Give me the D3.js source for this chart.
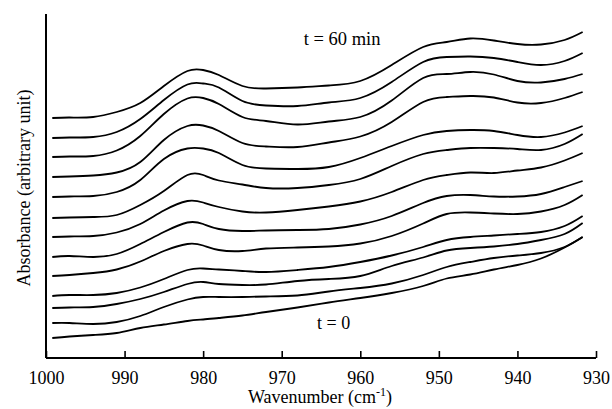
<!DOCTYPE html>
<html>
<head>
<meta charset="utf-8">
<script src="https://cdn.jsdelivr.net/npm/d3@7"></script>
<style>
  html, body { margin: 0; padding: 0; background: #fff; }
  svg { display: block; }
  text { font-family: "Liberation Serif", "Times New Roman", serif; fill: #000; }
</style>
</head>
<body>
<div id="chart"></div>
<script>
// Wavenumbers (cm^-1) at which each spectrum is sampled
const wavenumbers = [999.2, 997, 994, 991, 988, 985, 982, 980, 978, 975, 972, 968, 964, 960, 956, 952, 949, 946, 943, 940, 937, 934, 931.7];

// Sampling times of the spectra (min), bottom to top
const times = [0, 5, 10, 15, 20, 25, 30, 35, 40, 45, 50, 55, 60];

// Absorbance (arbitrary unit, stacked), one array per spectrum, t = 0 first
const spec00 = [0.20, 0.215, 0.23, 0.25, 0.30, 0.335, 0.37, 0.385, 0.40, 0.425, 0.46, 0.505, 0.555, 0.60, 0.65, 0.72, 0.795, 0.835, 0.885, 0.93, 0.995, 1.105, 1.21];
const spec05 = [0.35, 0.35, 0.34, 0.36, 0.42, 0.51, 0.585, 0.61, 0.61, 0.61, 0.615, 0.625, 0.665, 0.70, 0.745, 0.83, 0.91, 0.96, 1.00, 1.025, 1.05, 1.11, 1.21];
const spec10 = [0.50, 0.505, 0.51, 0.54, 0.59, 0.66, 0.74, 0.76, 0.74, 0.73, 0.735, 0.77, 0.79, 0.82, 0.92, 1.005, 1.075, 1.10, 1.115, 1.14, 1.18, 1.24, 1.35];
const spec15 = [0.62, 0.63, 0.63, 0.65, 0.705, 0.79, 0.88, 0.895, 0.885, 0.87, 0.86, 0.88, 0.91, 0.96, 1.025, 1.11, 1.18, 1.21, 1.225, 1.24, 1.26, 1.32, 1.42];
const spec20 = [0.82, 0.83, 0.85, 0.885, 0.965, 1.07, 1.14, 1.125, 1.08, 1.07, 1.095, 1.105, 1.115, 1.145, 1.22, 1.345, 1.44, 1.455, 1.445, 1.44, 1.465, 1.53, 1.63];
const spec25 = [1.01, 1.02, 1.01, 1.04, 1.14, 1.26, 1.355, 1.34, 1.29, 1.27, 1.275, 1.28, 1.29, 1.335, 1.42, 1.55, 1.62, 1.63, 1.615, 1.615, 1.64, 1.71, 1.77];
const spec30 = [1.21, 1.215, 1.22, 1.255, 1.34, 1.475, 1.57, 1.555, 1.51, 1.465, 1.455, 1.48, 1.515, 1.565, 1.66, 1.78, 1.83, 1.855, 1.85, 1.875, 1.905, 1.975, 2.05];
const spec35 = [1.40, 1.405, 1.41, 1.43, 1.53, 1.67, 1.83, 1.83, 1.775, 1.735, 1.70, 1.70, 1.73, 1.79, 1.92, 2.04, 2.08, 2.10, 2.10, 2.09, 2.08, 2.14, 2.24];
const spec40 = [1.61, 1.615, 1.62, 1.66, 1.78, 1.99, 2.095, 2.095, 2.05, 1.93, 1.895, 1.89, 1.91, 2.00, 2.12, 2.23, 2.27, 2.28, 2.27, 2.23, 2.21, 2.255, 2.32];
const spec45 = [1.81, 1.815, 1.825, 1.855, 1.96, 2.18, 2.32, 2.325, 2.27, 2.15, 2.115, 2.11, 2.155, 2.215, 2.36, 2.56, 2.61, 2.62, 2.605, 2.555, 2.55, 2.60, 2.66];
const spec50 = [2.01, 2.015, 2.02, 2.075, 2.22, 2.44, 2.595, 2.60, 2.54, 2.41, 2.37, 2.335, 2.365, 2.41, 2.575, 2.80, 2.84, 2.86, 2.835, 2.77, 2.755, 2.79, 2.84];
const spec55 = [2.20, 2.205, 2.21, 2.26, 2.39, 2.58, 2.735, 2.745, 2.705, 2.57, 2.525, 2.52, 2.555, 2.60, 2.76, 2.96, 3.01, 3.015, 3.00, 2.96, 2.93, 2.97, 3.05];
const spec60 = [2.40, 2.405, 2.41, 2.46, 2.55, 2.72, 2.87, 2.88, 2.83, 2.72, 2.695, 2.705, 2.725, 2.77, 2.93, 3.11, 3.16, 3.195, 3.175, 3.14, 3.135, 3.18, 3.26];

const spectra = [spec00, spec05, spec10, spec15, spec20, spec25, spec30, spec35, spec40, spec45, spec50, spec55, spec60];

// X axis ticks
const xTicks = [1000, 990, 980, 970, 960, 950, 940, 930];

const W = 612, H = 409;
const svg = d3.select("#chart").append("svg").attr("width", W).attr("height", H);

const x = d3.scaleLinear().domain([1000, 930]).range([46, 596]);
const y = d3.scaleLinear().domain([0, 3.44]).range([358, 14]);

// Spectra, drawn as smooth splines through the samples
const line = d3.line()
  .x(d => x(d[0]))
  .y(d => y(d[1]))
  .curve(d3.curveNatural);

svg.append("g")
  .selectAll("path")
  .data(spectra)
  .join("path")
  .attr("d", s => line(wavenumbers.map((w, i) => [w, s[i]])))
  .attr("fill", "none")
  .attr("stroke", "#000")
  .attr("stroke-width", 1.8)
  .attr("stroke-linejoin", "round");

// Bottom axis with inward ticks
const xAxis = d3.axisBottom(x).tickValues(xTicks).tickSize(-7).tickPadding(13).tickFormat(d3.format("d"));
const gx = svg.append("g").attr("transform", `translate(0,${y(0)})`).call(xAxis);
gx.select(".domain").attr("d", `M${x(1000)},0H${x(930)}`).attr("stroke-width", 2);
gx.selectAll(".tick line").attr("stroke-width", 1.6);
gx.selectAll(".tick text")
  .attr("font-family", "Liberation Serif, Times New Roman, serif")
  .attr("font-size", 18)
  .attr("dy", "0.71em");

// Left axis line (no ticks)
svg.append("line")
  .attr("x1", x(1000)).attr("x2", x(1000))
  .attr("y1", y(3.44)).attr("y2", y(0))
  .attr("stroke", "#000").attr("stroke-width", 2);

// Axis titles
const xt = svg.append("text")
  .attr("x", 320).attr("y", 403)
  .attr("text-anchor", "middle")
  .attr("font-size", 18);
xt.append("tspan").text("Wavenumber (cm");
xt.append("tspan").attr("dy", -7).attr("font-size", 12).text("-1");
xt.append("tspan").attr("dy", 7).text(")");

svg.append("text")
  .attr("transform", "translate(30,188) rotate(-90)")
  .attr("text-anchor", "middle")
  .attr("font-size", 18)
  .text("Absorbance (arbitrary unit)");

// Time annotations for the top and bottom spectra
svg.append("text")
  .attr("x", x(967.2)).attr("y", 45)
  .attr("font-size", 18.5)
  .text(`t = ${times[times.length - 1]} min`);

svg.append("text")
  .attr("x", x(965.5)).attr("y", 329)
  .attr("font-size", 18)
  .text(`t = ${times[0]}`);
</script>
</body>
</html>
